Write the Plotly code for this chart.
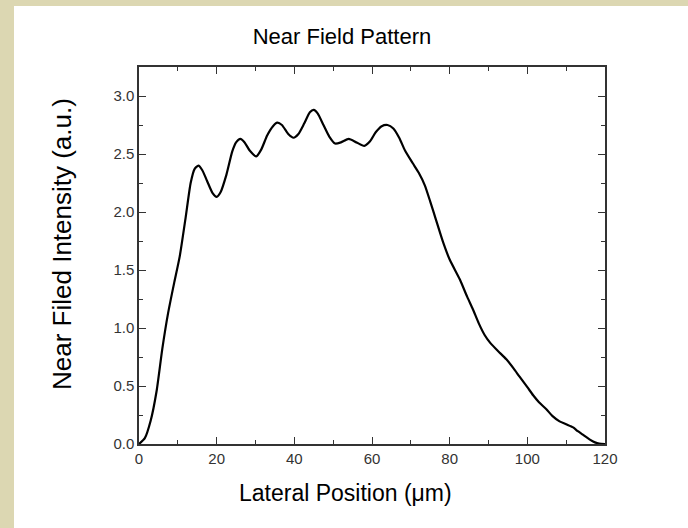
import plotly.graph_objects as go

# Data
position_um = [0, 1.5, 3.0, 4.5, 6.0, 7.5, 9.0, 10.5, 12.0, 13.3, 14.3, 15.3, 16.3, 17.5,
               19.0, 20.0, 21.0, 22.5, 24.0, 25.0, 26.1, 27.2, 28.5, 30.2, 31.5, 33.0,
               34.5, 35.6, 36.8, 38.5, 39.8, 41.0, 42.5, 44.0, 45.0, 46.0, 47.5, 49.0,
               50.5, 52.0, 54.0, 56.0, 58.0, 59.5, 61.0, 62.5, 64.0, 65.5, 67.0, 68.5,
               70.5, 72.0, 73.6, 75.0, 76.5, 78.3, 80.0, 82.6, 84.5, 86.0, 87.5, 89.0,
               90.5, 92.5, 94.6, 96.5, 98.0, 100.0, 101.5, 103.0, 104.9, 106.5, 108.3,
               110.0, 111.8, 113.0, 114.3, 116.0, 117.4, 118.5, 120.0]
intensity = [0, 0.05, 0.20, 0.45, 0.82, 1.13, 1.38, 1.62, 1.95, 2.25, 2.37, 2.40, 2.36, 2.27,
             2.16, 2.13, 2.17, 2.32, 2.52, 2.60, 2.63, 2.60, 2.53, 2.48, 2.54, 2.66,
             2.74, 2.77, 2.75, 2.67, 2.64, 2.67, 2.76, 2.86, 2.88, 2.85, 2.75, 2.65,
             2.59, 2.60, 2.63, 2.60, 2.57, 2.61, 2.69, 2.74, 2.75, 2.72, 2.64, 2.53,
             2.42, 2.34, 2.23, 2.09, 1.93, 1.74, 1.59, 1.42, 1.27, 1.16, 1.04, 0.94,
             0.87, 0.80, 0.73, 0.65, 0.58, 0.49, 0.42, 0.36, 0.30, 0.24, 0.195,
             0.17, 0.143, 0.11, 0.08, 0.04, 0.014, 0.003, 0]

x_ticks = [0, 20, 40, 60, 80, 100, 120]
y_ticks = [0.0, 0.5, 1.0, 1.5, 2.0, 2.5, 3.0]

title_text = "Near Field Pattern"
x_title = "Lateral Position (\u03bcm)"
y_title = "Near Filed Intensity (a.u.)"

FONT = "Arial, Liberation Sans, Helvetica, sans-serif"
W, H = 688, 528
L, R, T, B = 139, 83, 67, 84
pw, ph = W - L - R, H - T - B

def px_x(p):
    return (p - L) / pw

def px_y(p):
    return (H - B - p) / ph

fig = go.Figure()
fig.add_trace(go.Scatter(
    x=position_um, y=intensity, mode="lines",
    line=dict(color="black", width=2.2, shape="spline", smoothing=0.6),
    hoverinfo="skip", showlegend=False,
))

axis_common = dict(
    showgrid=False, zeroline=False, showline=True, linecolor="#333333", linewidth=1.5,
    mirror="ticks", ticks="inside", ticklen=7, tickwidth=1.3, tickcolor="#333333",
    tickfont=dict(family=FONT, size=15, color="#333333"),
)

fig.update_xaxes(range=[0, 120], tickvals=x_ticks, ticktext=[str(v) for v in x_ticks],
                 minor=dict(ticks="inside", ticklen=4, dtick=10, tick0=0, tickcolor="#333333", tickwidth=1.2),
                 **axis_common)
fig.update_yaxes(range=[0, 3.25], tickvals=y_ticks, ticktext=[f"{v:.1f}" for v in y_ticks],
                 minor=dict(ticks="inside", ticklen=4, dtick=0.25, tick0=0, tickcolor="#333333", tickwidth=1.2),
                 **axis_common)

beige = "#DCD7B2"
fig.update_layout(
    width=W, height=H,
    margin=dict(l=L, r=R, t=T, b=B, autoexpand=False),
    paper_bgcolor="white", plot_bgcolor="white",
    title=dict(text=title_text, x=342 / W, xref="container", xanchor="center",
               y=1 - 36 / H, yref="container", yanchor="middle",
               font=dict(family=FONT, size=22, color="black")),
    shapes=[
        dict(type="rect", xref="paper", yref="paper", layer="below",
             x0=px_x(0), x1=px_x(14), y0=px_y(H), y1=px_y(0),
             fillcolor=beige, line=dict(width=0)),
        dict(type="rect", xref="paper", yref="paper", layer="below",
             x0=px_x(0), x1=px_x(W), y0=px_y(6), y1=px_y(0),
             fillcolor=beige, line=dict(width=0)),
    ],
    annotations=[
        dict(text=x_title, xref="paper", yref="paper", x=px_x(345), y=px_y(493),
             xanchor="center", yanchor="middle", showarrow=False,
             font=dict(family=FONT, size=23, color="black")),
        dict(text=y_title, xref="paper", yref="paper", x=px_x(62), y=px_y(244),
             xanchor="center", yanchor="middle", showarrow=False, textangle=-90,
             font=dict(family=FONT, size=26, color="black")),
    ],
)

fig.write_html("out.html")
